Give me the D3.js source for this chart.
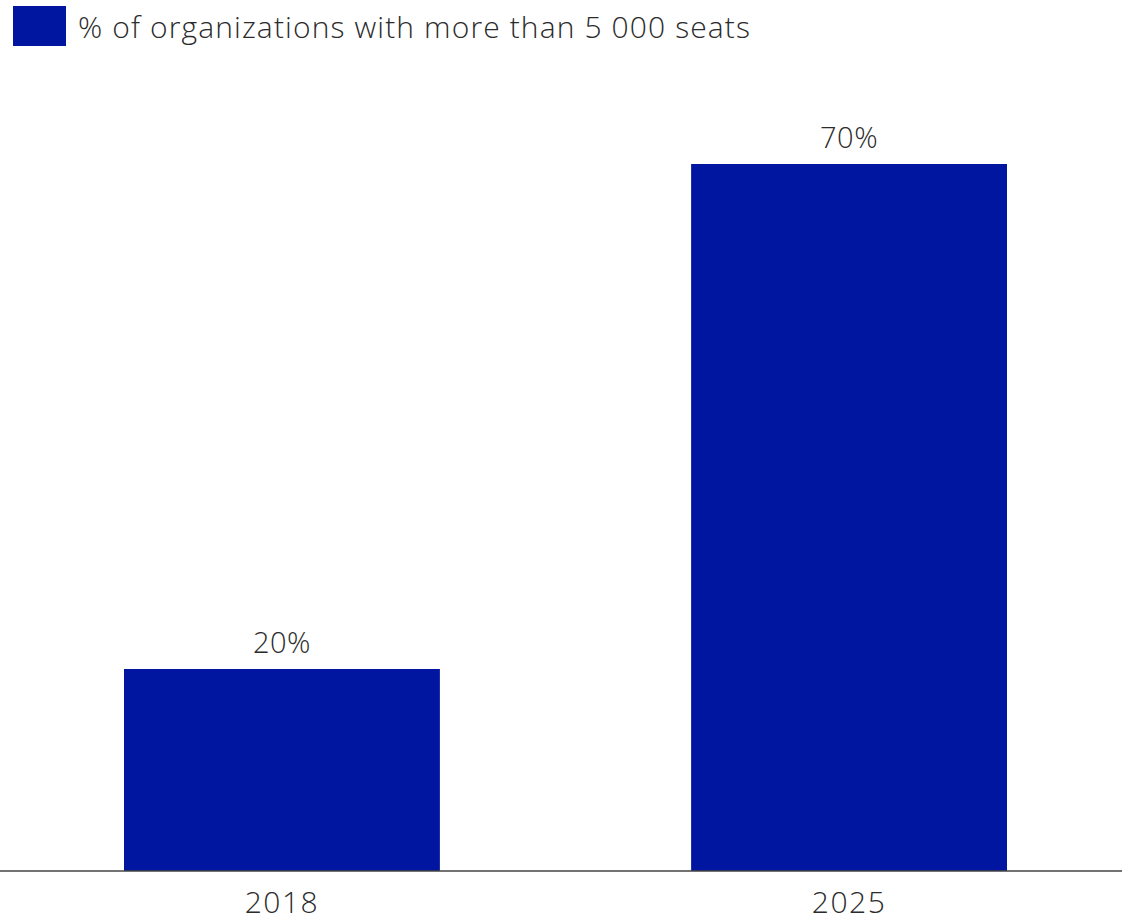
<!DOCTYPE html>
<html lang="en">
<head>
<meta charset="UTF-8">
<title>Organizations with more than 5 000 seats</title>
<style>
  body { margin: 0; background: #fff; }
  text { font-family: "Open Sans", Lato, sans-serif; font-weight: 300; fill: #2b2b2b; }
</style>
</head>
<body>
<div id="chart"></div>
<script src="https://d3js.org/d3.v7.min.js"></script>
<script>
  // data
  var years = ["2018", "2025"];
  var values = [20, 70];
  var seriesName = "% of organizations with more than 5 000 seats";

  var W = 1122, H = 923;
  var margin = {top: 164, right: 115, bottom: 52, left: 124},
      width = W - margin.left - margin.right,
      height = H - margin.top - margin.bottom;

  var svg = d3.select("#chart")
    .append("svg")
      .attr("width", W)
      .attr("height", H);

  // legend
  svg.append("rect")
    .attr("x", 13).attr("y", 6)
    .attr("width", 53).attr("height", 40)
    .attr("fill", "#0016a0");
  svg.append("text")
    .attr("x", 78).attr("y", 38)
    .style("font-size", "30px")
    .attr("textLength", 672)
    .attr("lengthAdjust", "spacing")
    .text(seriesName);

  var g = svg.append("g")
    .attr("transform", "translate(" + margin.left + "," + margin.top + ")");

  var x = d3.scaleBand()
    .domain(years)
    .range([0, width])
    .paddingInner(0.443)
    .paddingOuter(0);

  var y = d3.scaleLinear()
    .domain([0, 70])
    .range([height, 0]);

  var data = years.map(function(d, i) { return {year: d, value: values[i]}; });

  // bars
  g.selectAll(".bar")
    .data(data)
    .enter().append("rect")
      .attr("class", "bar")
      .attr("x", function(d) { return x(d.year); })
      .attr("y", function(d) { return y(d.value); })
      .attr("width", x.bandwidth())
      .attr("height", function(d) { return height - y(d.value); })
      .attr("fill", "#0016a0");

  // value labels
  g.selectAll(".val")
    .data(data)
    .enter().append("text")
      .attr("class", "val")
      .attr("x", function(d) { return x(d.year) + x.bandwidth() / 2; })
      .attr("y", function(d) { return y(d.value) - 16; })
      .attr("text-anchor", "middle")
      .style("font-size", "29px")
      .style("letter-spacing", "0.5px")
      .text(function(d) { return d.value + "%"; });

  // x axis line across full width
  svg.append("line")
    .attr("x1", 0).attr("x2", W)
    .attr("y1", margin.top + height).attr("y2", margin.top + height)
    .attr("stroke", "#444")
    .attr("stroke-width", 1.5);

  var xAxis = g.append("g")
    .attr("transform", "translate(0," + height + ")")
    .call(d3.axisBottom(x).tickSize(0).tickPadding(0));
  xAxis.select(".domain").remove();
  xAxis.selectAll("text")
    .attr("dy", null)
    .attr("y", 42)
    .style("font-family", "'Open Sans', Lato, sans-serif")
    .style("font-weight", 300)
    .style("font-size", "30px")
    .style("letter-spacing", "1.5px")
    .style("fill", "#2b2b2b");
</script>
</body>
</html>
